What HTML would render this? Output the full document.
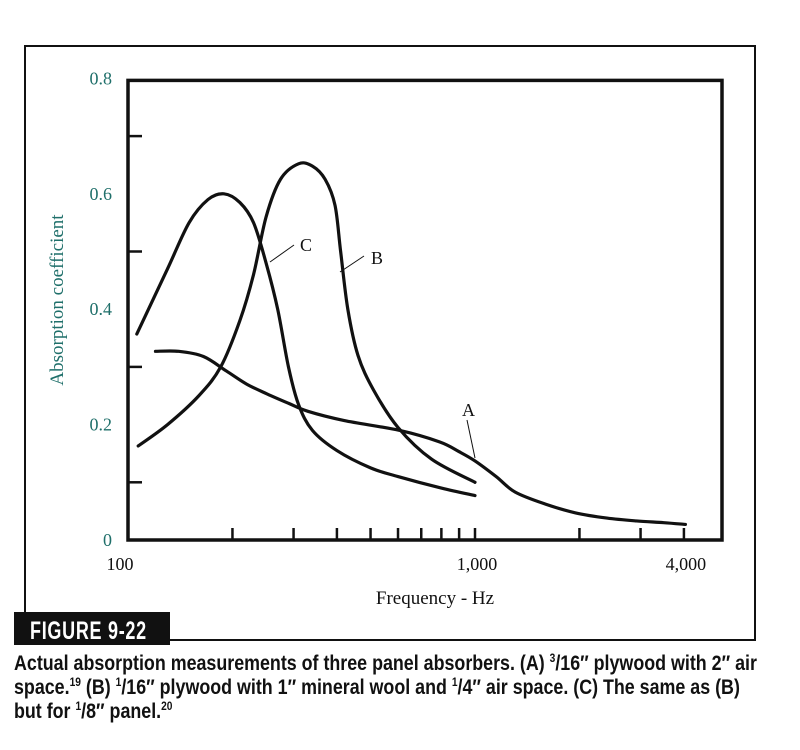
<!DOCTYPE html>
<html><head><meta charset="utf-8"><style>
html,body{margin:0;padding:0;background:#fff;}
body{width:800px;height:750px;overflow:hidden;position:relative;}
svg{position:absolute;left:0;top:0;}
.cap{position:absolute;left:14px;top:652px;white-space:nowrap;font-family:"Liberation Sans",sans-serif;font-weight:bold;font-size:21px;line-height:24px;color:#111;transform:scaleX(0.85);transform-origin:0 0;}
sup{font-size:12px;line-height:0;}
</style></head><body>
<svg width="800" height="750">
<g id="plot"></g>
</svg>
<div class="cap">Actual absorption measurements of three panel absorbers. (A) <sup>3</sup>/16″ plywood with 2″ air<br>space.<sup>19</sup> (B) <sup>1</sup>/16″ plywood with 1″ mineral wool and <sup>1</sup>/4″ air space. (C) The same as (B)<br>but for <sup>1</sup>/8″ panel.<sup>20</sup></div>
<script>
const yTickValues=[0,0.2,0.4,0.6,0.8];
const yTickLabels=["0","0.2","0.4","0.6","0.8"];
const yMinorTicks=[0.1,0.3,0.5,0.7];
const xTickValues=[200,300,400,500,600,700,800,900,1000,2000,3000,4000];
const xLabelValues=[100,1000,4000];
const xLabelText=["100","1,000","4,000"];
const freqA=[120,140,165,192,220,252,290,330,420,605,790,900,1000,1150,1306,1600,1950,2400,2920,3500,4040];
const valA=[0.327,0.327,0.318,0.293,0.27,0.253,0.237,0.223,0.207,0.19,0.17,0.153,0.137,0.11,0.083,0.062,0.047,0.038,0.033,0.03,0.027];
const freqB=[107,130,160,185,210,230,250,275,310,340,370,395,410,430,460,510,600,750,1000];
const valB=[0.163,0.2,0.25,0.3,0.38,0.46,0.56,0.625,0.652,0.648,0.625,0.58,0.5,0.4,0.32,0.26,0.195,0.14,0.1];
const freqC=[106,130,150,170,189,210,230,250,270,290,310,340,400,500,600,800,1000];
const valC=[0.357,0.47,0.55,0.59,0.6,0.585,0.55,0.48,0.40,0.30,0.235,0.19,0.155,0.125,0.11,0.09,0.077];

const NS="http://www.w3.org/2000/svg";
const g=document.getElementById('plot');
const X0=128,DEC=347,Y0=540,YS=577;
const xs=f=>X0+Math.log10(f/100)*DEC;
const ys=v=>Y0-v*YS;
function mk(t,a){const e=document.createElementNS(NS,t);for(const k in a)e.setAttribute(k,a[k]);g.appendChild(e);return e;}
function txt(x,y,s,a){const e=mk('text',Object.assign({x:x,y:y,'font-family':'Liberation Serif, serif','font-size':18},a));e.textContent=s;return e;}

let e=mk('rect',{x:25,y:46,width:730,height:594,fill:'none',stroke:'#111','stroke-width':2});


e=mk('rect',{x:X0,y:Y0-0.8*YS+2,width:594,height:0.8*YS-2,fill:'none',stroke:'#111','stroke-width':3.5});


e=mk('rect',{x:14,y:612,width:156,height:33,fill:'#111'});


e=txt(0,0,'FIGURE 9-22',{fill:'#fff','font-family':'Liberation Sans, sans-serif','font-weight':'bold','font-size':25,'letter-spacing':1,transform:'translate(30,639) scale(0.72,1)'});



yTickValues.forEach((v,i)=>{
 const t=txt(112,ys(v)+6,yTickLabels[i],{fill:'#1f6f6a','text-anchor':'end'});
 
 
});
yMinorTicks.forEach(v=>{
 const l=mk('line',{x1:X0,x2:X0+14,y1:ys(v),y2:ys(v),stroke:'#111','stroke-width':2.5});
 
 
});
xTickValues.forEach(f=>{
 const l=mk('line',{x1:xs(f),x2:xs(f),y1:Y0,y2:Y0-12,stroke:'#111','stroke-width':2.5});
 
 
});
xLabelValues.forEach((f,i)=>{
 const t=txt(xs(f)-6+(i==0?-2:8),570,xLabelText[i],{fill:'#111','text-anchor':'middle'});
 
 
});
e=txt(435,604,'Frequency - Hz',{fill:'#111','text-anchor':'middle','font-size':19});


e=txt(0,0,'Absorption coefficient',{fill:'#1f6f6a','text-anchor':'middle','font-size':19,transform:'translate(63,300) rotate(-90)'});



function curve(fr,va,name){
 let d='';
 const p=fr.map((f,i)=>[xs(f),ys(va[i])]);
 d='M'+p[0][0]+','+p[0][1];
 for(let i=0;i<p.length-1;i++){
  const p0=p[i-1]||p[i],p1=p[i],p2=p[i+1],p3=p[i+2]||p2;
  d+=' C'+(p1[0]+(p2[0]-p0[0])/6)+','+(p1[1]+(p2[1]-p0[1])/6)+' '+(p2[0]-(p3[0]-p1[0])/6)+','+(p2[1]-(p3[1]-p1[1])/6)+' '+p2[0]+','+p2[1];
 }
 const c=mk('path',{d:d,fill:'none',stroke:'#111','stroke-width':3.2,'stroke-linecap':'round'});
 
 
}
curve(freqA,valA,'curve-a');
curve(freqB,valB,'curve-b');
curve(freqC,valC,'curve-c');

[[270,262,294,245,300,251,'C'],[340,272,364,256,371,264,'B'],[475,458,467,420,462,416,'A']].forEach(a=>{
 const l=mk('line',{x1:a[0],y1:a[1],x2:a[2],y2:a[3],stroke:'#111','stroke-width':1});
 
 
 const t=txt(a[4],a[5],a[6],{fill:'#111'});
 
 
});
</script>
</body></html>
